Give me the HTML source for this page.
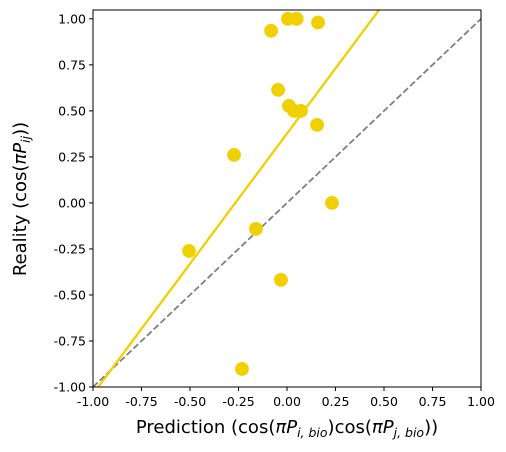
<!DOCTYPE html>
<html><head><meta charset="utf-8"><style>
body{margin:0;background:#fff;}
svg text{font-family:"DejaVu Sans","Liberation Sans",sans-serif;}
</style></head><body>
<svg id="chart" width="506" height="452" xmlns="http://www.w3.org/2000/svg" style="position:absolute;left:0;top:0">
</svg>
<script>
const predictions=[-0.082,0.005,0.05,0.16,-0.046,0.01,0.036,0.072,0.155,-0.273,0.232,-0.16,-0.505,-0.031,-0.232];
const realities=[0.935,1.0,1.0,0.98,0.614,0.527,0.5,0.5,0.424,0.261,0.0,-0.141,-0.261,-0.418,-0.902];
const fitLine=[1.415,0.377];
const xTicks=[-1,-0.75,-0.5,-0.25,0,0.25,0.5,0.75,1];
const yTicks=[-1,-0.75,-0.5,-0.25,0,0.25,0.5,0.75,1];
const L=93,R=481,T=10,B=387,xmin=-1,xmax=1,ymin=-1,ymax=1.048;
const sx=v=>L+(v-xmin)/(xmax-xmin)*(R-L);
const sy=v=>B-(v-ymin)/(ymax-ymin)*(B-T);
const NS="http://www.w3.org/2000/svg";
const svg=document.getElementById('chart');
function mk(tag,attrs,parent){const e=document.createElementNS(NS,tag);for(const k in attrs)e.setAttribute(k,attrs[k]);(parent||svg).appendChild(e);return e;}
const defs=mk('defs',{});const cp=mk('clipPath',{id:'clip'},defs);mk('rect',{x:L,y:T,width:R-L,height:B-T},cp);
const g=mk('g',{'clip-path':'url(#clip)'});
const diag=mk('line',{x1:sx(-1),y1:sy(-1),x2:sx(1.2),y2:sy(1.2),stroke:'#808080','stroke-width':1.8,'stroke-dasharray':'6.5,2.8'},g);


const fx1=-1.1,fx2=1;
const fit=mk('line',{x1:sx(fx1),y1:sy(fitLine[0]*fx1+fitLine[1]),x2:sx(fx2),y2:sy(fitLine[0]*fx2+fitLine[1]),stroke:'#f0d000','stroke-width':2.3},g);


predictions.forEach((p,i)=>{
  const c=mk('circle',{cx:sx(p),cy:sy(realities[i]),r:6.9,fill:'#f0d000'},g);
  
  
});
const frame=mk('rect',{x:L,y:T,width:R-L,height:B-T,fill:'none',stroke:'#000','stroke-width':1});


xTicks.forEach(v=>{
  mk('line',{x1:sx(v),x2:sx(v),y1:B,y2:B+4,stroke:'#000'});
  const t=mk('text',{x:sx(v),y:B+19,'font-size':12.5,'text-anchor':'middle'});t.textContent=v.toFixed(2);
  
  
});
yTicks.forEach(v=>{
  mk('line',{x1:L-4,x2:L,y1:sy(v),y2:sy(v),stroke:'#000'});
  const t=mk('text',{x:L-7,y:sy(v)+4.5,'font-size':12.5,'text-anchor':'end'});t.textContent=v.toFixed(2);
  
  
});
</script>
<svg width="506" height="452" style="position:absolute;left:0;top:0">
<text x="287" y="433" font-size="18" text-anchor="middle" font-family="DejaVu Sans, Liberation Sans, sans-serif">Prediction (cos(<tspan font-style="italic">πP</tspan><tspan font-size="12.5" dy="4" font-style="italic">i, bio</tspan><tspan dy="-4">)cos(</tspan><tspan font-style="italic">πP</tspan><tspan font-size="12.5" dy="4" font-style="italic">j, bio</tspan><tspan dy="-4">))</tspan></text>
<text transform="translate(26,199) rotate(-90)" font-size="18" text-anchor="middle" font-family="DejaVu Sans, Liberation Sans, sans-serif">Reality (cos(<tspan font-style="italic">πP</tspan><tspan font-size="12.5" dy="4" font-style="italic">ij</tspan><tspan dy="-4">))</tspan></text>
</svg>
</body></html>
